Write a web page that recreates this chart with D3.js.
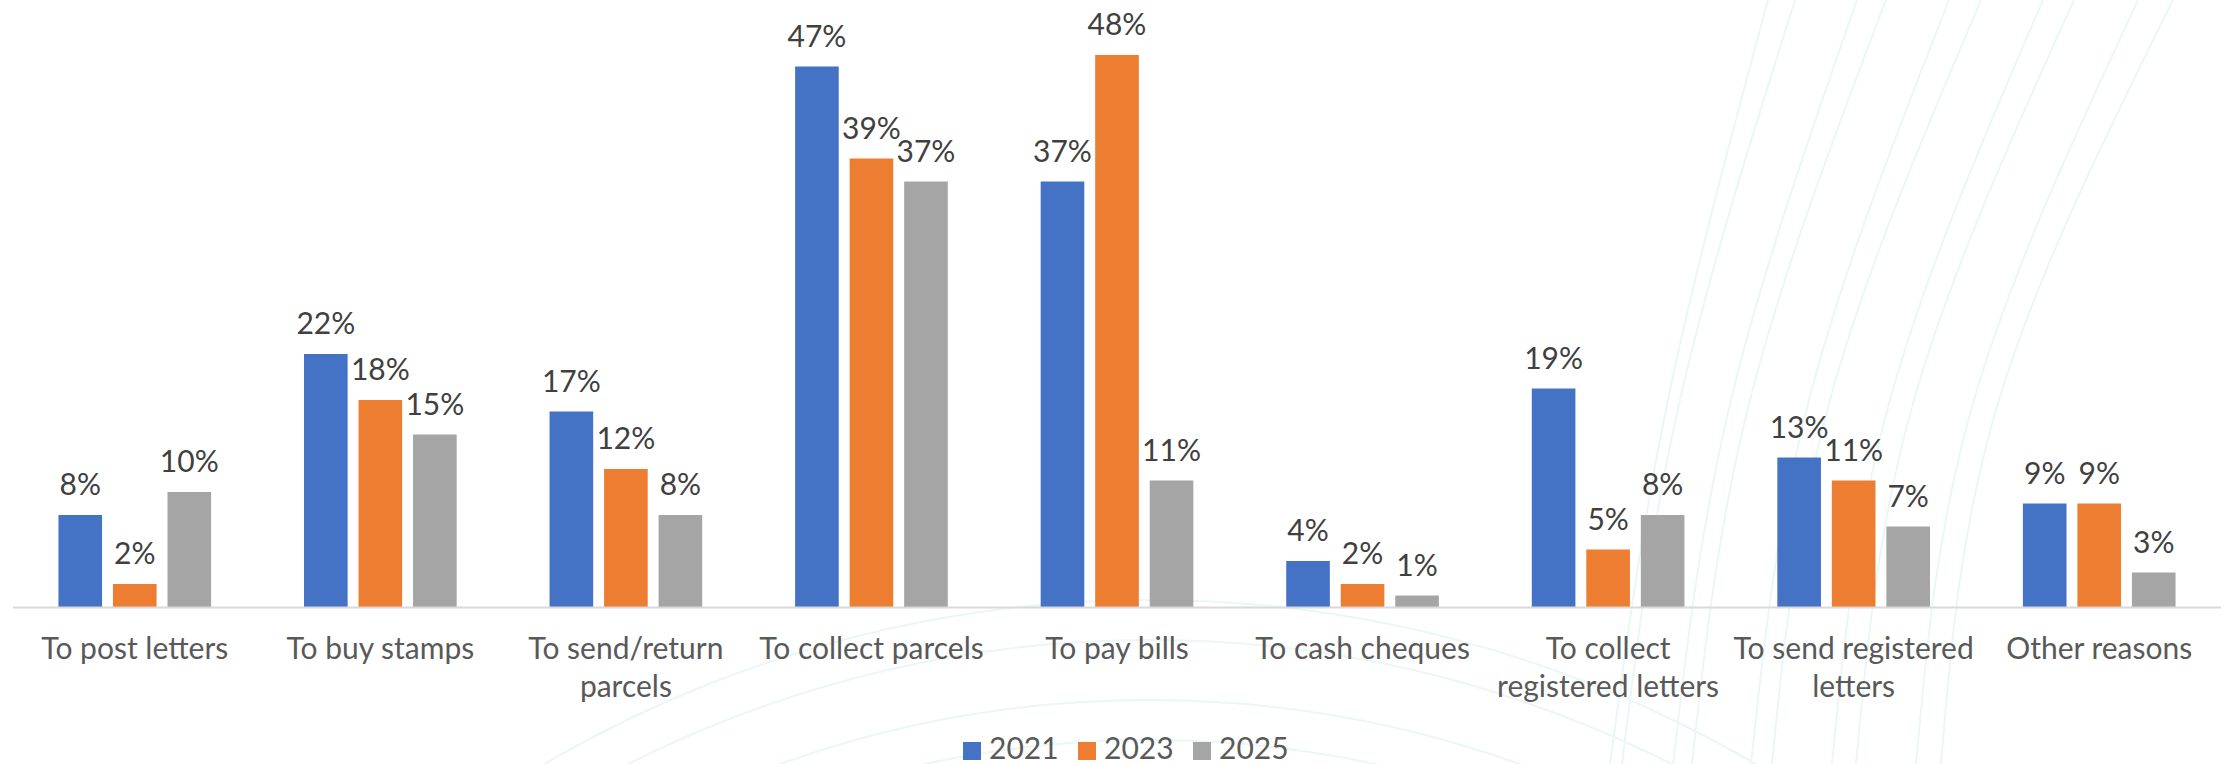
<!DOCTYPE html>
<html>
<head>
<meta charset="utf-8">
<script src="https://cdn.jsdelivr.net/npm/d3@7"></script>
<style>
  html, body { margin: 0; padding: 0; background: #ffffff; }
  svg { display: block; font-family: Lato, "Noto Sans", sans-serif; }
</style>
</head>
<body>
<svg id="chart" width="2233" height="764"></svg>
<script>
// Reasons for visiting a post office, share of respondents (%) by survey year
const categories = [
  "To post letters",
  "To buy stamps",
  "To send/return parcels",
  "To collect parcels",
  "To pay bills",
  "To cash cheques",
  "To collect registered letters",
  "To send registered letters",
  "Other reasons"
];
const years = ["2021", "2023", "2025"];
const values2021 = [8, 22, 17, 47, 37, 4, 19, 13, 9];
const values2023 = [2, 18, 12, 39, 48, 2, 5, 11, 9];
const values2025 = [10, 15, 8, 37, 11, 1, 8, 7, 3];
const seriesColors = ["#4472C4", "#ED7D31", "#A5A5A5"];

const seriesValues = [values2021, values2023, values2025];

const W = 2233, H = 764;
const plot = { left: 12, right: 2222, top: 32, baseline: 607 };
const fontSize = 30;

const svg = d3.select("#chart");

// Faint decorative background strokes
const deco = svg.append("g").attr("fill", "none").attr("stroke", "#ecf6f6").attr("stroke-width", 2);
const swooshTops = [1768, 1795, 1857, 1886, 1949, 1981, 2043, 2074, 2138, 2173];
const swooshMids = [1668, 1680, 1731, 1750, 1809, 1830, 1890, 1914, 1974, 1999];
const curve = d3.line().curve(d3.curveNatural);
swooshTops.forEach((t, i) => {
  const m = swooshMids[i];
  deco.append("path").attr("d", curve([[t, 0], [m, 400], [m - 58, 764]]));
});
const arcRadii = [1060, 1100, 1160, 1200];
arcRadii.forEach(r => {
  deco.append("circle").attr("cx", 1150).attr("cy", 1800).attr("r", r);
});

// Scales
const x0 = d3.scaleBand()
  .domain(categories)
  .range([plot.left, plot.right])
  .paddingInner(0)
  .paddingOuter(0);

const x1 = d3.scaleBand()
  .domain(years)
  .range([0, x0.bandwidth()])
  .paddingInner(0.2)
  .paddingOuter(0.852);

const y = d3.scaleLinear()
  .domain([0, 50])
  .range([plot.baseline, plot.top]);

// Bars
const groups = svg.append("g").selectAll("g")
  .data(categories)
  .join("g")
  .attr("transform", d => `translate(${x0(d)},0)`);

const cells = groups.selectAll("g.cell")
  .data((c, ci) => years.map((yr, si) => ({ yr, si, v: seriesValues[si][ci] })))
  .join("g").attr("class", "cell");

cells.append("rect")
  .attr("x", d => x1(d.yr))
  .attr("y", d => y(d.v))
  .attr("width", x1.bandwidth())
  .attr("height", d => y(0) - y(d.v))
  .attr("fill", d => seriesColors[d.si]);

// Data labels
cells.append("text")
  .attr("x", d => x1(d.yr) + x1.bandwidth() / 2)
  .attr("y", d => y(d.v) - 20)
  .attr("text-anchor", "middle")
  .attr("font-size", fontSize)
  .attr("fill", "#404040")
  .text(d => d.v + "%");

// Category axis line
svg.append("line")
  .attr("x1", plot.left + 1).attr("x2", plot.right - 1)
  .attr("y1", y(0) + 0.5).attr("y2", y(0) + 0.5)
  .attr("stroke", "#d9d9d9")
  .attr("stroke-width", 2);

// Category labels, wrapped to the band width
const labelG = svg.append("g")
  .attr("font-size", fontSize)
  .attr("fill", "#595959")
  .attr("text-anchor", "middle");

categories.forEach(cat => {
  const cx = x0(cat) + x0.bandwidth() / 2;
  const t = labelG.append("text").attr("x", cx).attr("y", 659);
  const words = cat.split(" ");
  const lines = [];
  let cur = [];
  const probe = labelG.append("text");
  words.forEach(w => {
    const trial = cur.concat([w]).join(" ");
    probe.text(trial);
    if (cur.length && probe.node().getComputedTextLength() > x0.bandwidth() - 2) {
      lines.push(cur.join(" "));
      cur = [w];
    } else {
      cur.push(w);
    }
  });
  lines.push(cur.join(" "));
  probe.remove();
  lines.forEach((ln, i) => {
    t.append("tspan").attr("x", cx).attr("y", 659 + i * 38).text(ln);
  });
});

// Legend
const legend = svg.append("g").attr("transform", "translate(963,742)");
const items = legend.selectAll("g")
  .data(years)
  .join("g")
  .attr("transform", (d, i) => `translate(${i * 115},0)`);
items.append("rect")
  .attr("width", 18).attr("height", 18)
  .attr("fill", (d, i) => seriesColors[i]);
items.append("text")
  .attr("x", 26).attr("y", 17)
  .attr("font-size", fontSize)
  .attr("fill", "#595959")
  .text(d => d);
</script>
</body>
</html>
